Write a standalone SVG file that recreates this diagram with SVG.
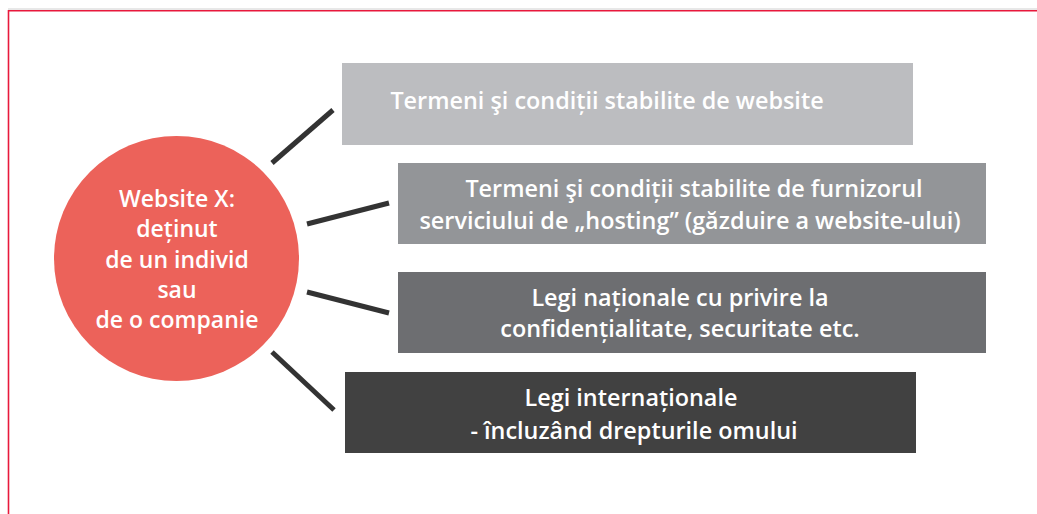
<svg xmlns="http://www.w3.org/2000/svg" width="1037" height="514" viewBox="0 0 1037 514">
<style>
.t{font-family:"Open Sans","Liberation Sans",sans-serif;font-weight:600;fill:#ffffff;text-anchor:middle}
.b{font-size:23.4px}
.c{font-size:23px}
.con line{stroke:#333333;stroke-width:5;stroke-linecap:butt}
</style>
<rect width="1037" height="514" fill="#ffffff"/>
<line x1="8" y1="9" x2="1037" y2="9" stroke="#d0d0d0" stroke-width="1"/>
<path d="M8.5 514 V10.8 H1040" fill="none" stroke="#e8193c" stroke-width="1.6"/>
<g class="con" id="connectors">
<line x1="272" y1="163" x2="333" y2="110"/>
<line x1="307" y1="224" x2="389" y2="203"/>
<line x1="307" y1="292" x2="389" y2="313"/>
<line x1="272" y1="352" x2="334" y2="410"/>
</g>
<g id="center">
<circle cx="176.5" cy="258.5" r="122.5" fill="#ec625a"/>
<text class="t c" x="177" y="207">Website X:</text>
<text class="t c" x="177" y="237">deținut</text>
<text class="t c" x="177" y="268">de un individ</text>
<text class="t c" x="177" y="298">sau</text>
<text class="t c" x="177" y="328">de o companie</text>
</g>
<g id="box1">
<rect x="342" y="63" width="571" height="82" fill="#bcbdc0"/>
<text class="t b" x="607" y="109">Termeni şi condiții stabilite de website</text>
</g>
<g id="box2">
<rect x="398" y="163" width="588" height="81" fill="#939598"/>
<text class="t b" x="694" y="197">Termeni şi condiții stabilite de furnizorul</text>
<text class="t b" x="690" y="229">serviciului de „hosting” (găzduire a website-ului)</text>
</g>
<g id="box3">
<rect x="398" y="272" width="588" height="81" fill="#6d6e71"/>
<text class="t b" x="680" y="306">Legi naționale cu privire la</text>
<text class="t b" x="680" y="337">confidențialitate, securitate etc.</text>
</g>
<g id="box4">
<rect x="345" y="372" width="571" height="81" fill="#414141"/>
<text class="t b" x="631" y="406">Legi internaționale</text>
<text class="t b" x="634" y="439">- încluzând drepturile omului</text>
</g>
</svg>
